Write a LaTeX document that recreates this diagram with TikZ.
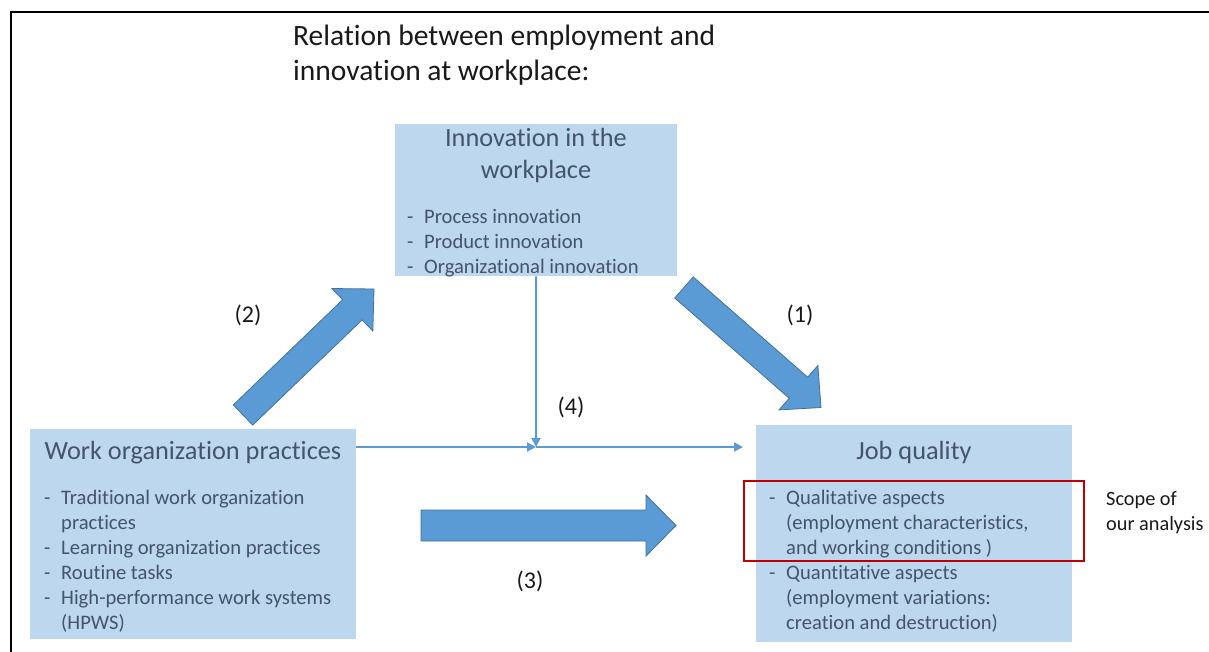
\documentclass[tikz,border=0pt]{standalone}
\usepackage{fontspec}
\setmainfont{Carlito}[RawFeature={-liga,-clig,-calt,-dlig}]
\usetikzlibrary{calc,arrows.meta}
\definecolor{boxfill}{HTML}{BDD7EE}
\definecolor{arrfill}{HTML}{5B9BD5}
\definecolor{arredge}{HTML}{41719C}
\definecolor{boxtext}{HTML}{44546A}
\definecolor{scopered}{HTML}{C00000}
\newcommand{\bitem}[1]{\makebox[17pt][l]{-}#1}
\newcommand{\bcont}[1]{\hspace*{17pt}#1}
\newcommand{\blockarrow}[5]{%
  \coordinate (#1-#2hb) at ($(#2)!#5!(#1)$);
  \filldraw[bigarrow] ($(#1)!#3!90:(#2)$) -- ($(#1-#2hb)!#3!90:(#2)$) -- ($(#1-#2hb)!#4!90:(#2)$) -- (#2) -- ($(#1-#2hb)!#4!-90:(#2)$) -- ($(#1-#2hb)!#3!-90:(#2)$) -- ($(#1)!#3!-90:(#2)$) -- cycle;
}
\tikzset{
  bluebox/.style={fill=boxfill, draw=none, inner sep=0pt, anchor=north west},
  boxtitle/.style={text=boxtext, inner sep=0pt, anchor=base, font=\fontsize{26.3}{32}\selectfont},
  boxlist/.style={text=boxtext, inner sep=0pt, anchor=base west, font=\fontsize{20.6}{25}\selectfont},
  plaintext/.style={text=black!90, inner sep=0pt, anchor=base west},
  lbl/.style={text=black!90, inner sep=0pt, font=\fontsize{24}{28}\selectfont},
  thinconn/.style={draw=arrfill, line width=2pt, -{Triangle[length=9pt,width=9pt]}},
  bigarrow/.style={fill=arrfill, draw=arredge, line width=0.8pt, line join=miter},
  scoperect/.style={draw=scopered, line width=2pt, inner sep=0pt, anchor=north west},
}
\begin{document}
\begin{tikzpicture}[x=1pt,y=-1pt]
\useasboundingbox (0,0) rectangle (1209,652);
\draw[line width=2pt] (11,652) -- (11,12) -- (1209,12);

% title
\node[plaintext, font=\fontsize{29.5}{35}\selectfont] (title) at (293,46)
  {\begin{tabular}[t]{@{}l@{}}Relation between employment and\\innovation at workplace:\end{tabular}};

% boxes
\node[bluebox, minimum width=282pt, minimum height=152pt] (innov) at (395,124) {};
\node[bluebox, minimum width=326pt, minimum height=210pt] (work) at (30,429) {};
\node[bluebox, minimum width=316pt, minimum height=217pt] (job) at (756,425) {};

\node[boxtitle] (innovtitle) at (536,147)
  {\begin{tabular}[t]{@{}c@{}}Innovation in the\\workplace\end{tabular}};
\node[boxlist] (innovlist) at (407,224)
  {\begin{tabular}[t]{@{}l@{}}\bitem{Process innovation}\\\bitem{Product innovation}\\\bitem{Organizational innovation}\end{tabular}};

\node[boxtitle] (worktitle) at (193,459) {Work organization practices};
\node[boxlist] (worklist) at (44,504)
  {\begin{tabular}[t]{@{}l@{}}\bitem{Traditional work organization}\\\bcont{practices}\\\bitem{Learning organization practices}\\\bitem{Routine tasks}\\\bitem{High-performance work systems}\\\bcont{(HPWS)}\end{tabular}};

\node[boxtitle] (jobtitle) at (914,459) {Job quality};
\node[boxlist] (joblist) at (769,504)
  {\begin{tabular}[t]{@{}l@{}}\bitem{Qualitative aspects}\\\bcont{(employment characteristics,}\\\bcont{and working conditions )}\\\bitem{Quantitative aspects}\\\bcont{(employment variations:}\\\bcont{creation and destruction)}\end{tabular}};

% scope box
\node[scoperect, minimum width=340pt, minimum height=80pt] (scopebox) at (743,480) {};
\node[plaintext, font=\fontsize{20.3}{25}\selectfont] (scope) at (1106,505)
  {\begin{tabular}[t]{@{}l@{}}Scope of\\our analysis\end{tabular}};

% thin connectors
\coordinate (junc) at (536,447);
\coordinate (jobin) at (743,447);
\draw[thinconn] (innov.south) -- (junc);
\draw[thinconn] (work.east |- junc) -- (junc);
\draw[thinconn] (junc) -- (jobin);

% block arrows
\coordinate (a2tail) at (243,415);
\coordinate (a2tip) at (374,289);
\blockarrow{a2tail}{a2tip}{14pt}{29.5pt}{30pt}
\coordinate (a1tail) at (684,287.5);
\coordinate (a1tip) at (821,407.5);
\blockarrow{a1tail}{a1tip}{14pt}{29.5pt}{30pt}
\coordinate (a3tail) at (421,525.5);
\coordinate (a3tip) at (676,525.5);
\blockarrow{a3tail}{a3tip}{15.5pt}{30.5pt}{30pt}

% labels
\node[lbl] (l2) at (248,315) {(2)};
\node[lbl] (l1) at (800,315) {(1)};
\node[lbl] (l4) at (571,407) {(4)};
\node[lbl] (l3) at (530,581) {(3)};
\end{tikzpicture}
\end{document}
